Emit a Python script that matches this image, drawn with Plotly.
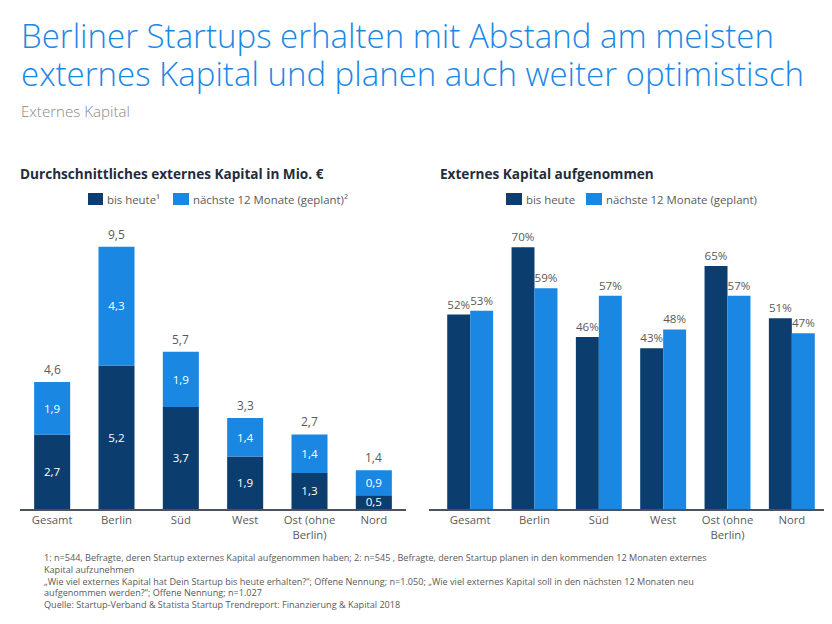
import plotly.graph_objects as go

# ---------------- data ----------------
categories = ["Gesamt", "Berlin", "Süd", "West", "Ost (ohne<br>Berlin)", "Nord"]
kapital_bis_heute = [2.7, 5.2, 3.7, 1.9, 1.3, 0.5]
kapital_geplant = [1.9, 4.3, 1.9, 1.4, 1.4, 0.9]
kapital_gesamt = [4.6, 9.5, 5.7, 3.3, 2.7, 1.4]
anteil_bis_heute = [52, 70, 46, 43, 65, 51]
anteil_geplant = [53, 59, 57, 48, 57, 47]

title_lines = ["Berliner Startups erhalten mit Abstand am meisten",
               "externes Kapital und planen auch weiter optimistisch"]
subtitle = "Externes Kapital"
left_title = "Durchschnittliches externes Kapital in Mio. €"
right_title = "Externes Kapital aufgenommen"
left_legend = ["bis heute¹", "nächste 12 Monate (geplant)²"]
right_legend = ["bis heute", "nächste 12 Monate (geplant)"]
footnotes = [
    "1: n=544, Befragte, deren Startup externes Kapital aufgenommen haben; 2: n=545 , Befragte, deren Startup planen in den kommenden 12 Monaten externes",
    "Kapital aufzunehmen",
    "„Wie viel externes Kapital hat Dein Startup bis heute erhalten?“; Offene Nennung; n=1.050; „Wie viel externes Kapital soll in den nächsten 12 Monaten neu",
    "aufgenommen werden?“; Offene Nennung; n=1.027",
    "Quelle: Startup-Verband & Statista Startup Trendreport: Finanzierung & Kapital 2018",
]

# ---------------- style ----------------
OFF = 8                      # page body margin
W, H = 832 - OFF, 624 - OFF
DARK = "#0b3d6f"
LIGHT = "#1a87e3"
TITLE_BLUE = "#1b88e6"
GRAY = "#5a5a5a"
FONT = "Open Sans"

def px_x(x):
    return (x - OFF) / W

def px_y(y):
    return 1 - (y - OFF) / H

fig = go.Figure()

# left chart: stacked bars
fig.add_trace(go.Bar(
    x=categories, y=kapital_bis_heute, xaxis="x", yaxis="y",
    marker=dict(color=DARK, line=dict(width=0)), width=0.56,
    texttemplate="%{y:.1f}", textposition="inside", insidetextanchor="middle",
    textangle=0, textfont=dict(color="white", size=12, family=FONT),
    constraintext="none", showlegend=False, hoverinfo="skip",
))
fig.add_trace(go.Bar(
    x=categories, y=[t - b for t, b in zip(kapital_gesamt, kapital_bis_heute)],
    base=kapital_bis_heute, customdata=kapital_geplant,
    xaxis="x", yaxis="y",
    marker=dict(color=LIGHT, line=dict(width=0)), width=0.56,
    texttemplate="%{customdata:.1f}", textposition="inside", insidetextanchor="middle",
    textangle=0, textfont=dict(color="white", size=12, family=FONT),
    constraintext="none", showlegend=False, hoverinfo="skip",
))

# right chart: grouped bars
for vals, col, off in [(anteil_bis_heute, DARK, -0.357), (anteil_geplant, LIGHT, 0.0)]:
    fig.add_trace(go.Bar(
        x=categories, y=vals, xaxis="x2", yaxis="y2",
        marker=dict(color=col, line=dict(width=0)), width=0.357, offset=off,
        texttemplate="%{y}%", textposition="outside", textangle=0,
        textfont=dict(color=GRAY, size=11.6, family=FONT),
        constraintext="none", cliponaxis=False, showlegend=False, hoverinfo="skip",
    ))

ydom = [px_y(509), px_y(233)]
axis_common = dict(showgrid=False, zeroline=False, ticks="", showline=True,
                   linecolor="#4a5260", linewidth=1.5,
                   tickfont=dict(color=GRAY, size=11.3, family=FONT))

annotations = []

# totals above stacked bars
for c, t in zip(categories, kapital_gesamt):
    annotations.append(dict(x=c, y=t, xref="x", yref="y", text=f"{t:.1f}".replace(".", ","),
                            showarrow=False, yanchor="bottom", yshift=2,
                            font=dict(size=12, color=GRAY, family=FONT)))

annotations.append(dict(text=title_lines[0], x=px_x(19), y=px_y(36),
                        xref="paper", yref="paper", xanchor="left", yanchor="middle",
                        showarrow=False, align="left",
                        font=dict(size=33, color=TITLE_BLUE, family=FONT, weight=300)))
annotations.append(dict(text=title_lines[1], x=px_x(19), y=px_y(73),
                        xref="paper", yref="paper", xanchor="left", yanchor="middle",
                        showarrow=False, align="left",
                        font=dict(size=33, color=TITLE_BLUE, family=FONT, weight=300)))
annotations.append(dict(text=subtitle, x=px_x(19), y=px_y(111),
                        xref="paper", yref="paper", xanchor="left", yanchor="middle",
                        showarrow=False, align="left",
                        font=dict(size=15.1, color="#8a8a8a", family=FONT, weight=300)))
annotations.append(dict(text="<b>" + left_title + "</b>", x=px_x(18), y=px_y(174),
                        xref="paper", yref="paper", xanchor="left", yanchor="middle",
                        showarrow=False, font=dict(size=13.6, color="#1f2d3d", family=FONT)))
annotations.append(dict(text="<b>" + right_title + "</b>", x=px_x(438), y=px_y(174),
                        xref="paper", yref="paper", xanchor="left", yanchor="middle",
                        showarrow=False, font=dict(size=13.6, color="#1f2d3d", family=FONT)))

shapes = []

def legend(items, xs_box, colors):
    for label, (x0, x1), c in zip(items, xs_box, colors):
        shapes.append(dict(type="rect", xref="paper", yref="paper",
                           x0=px_x(x0), x1=px_x(x1), y0=px_y(205), y1=px_y(193),
                           fillcolor=c, line=dict(width=0)))
        annotations.append(dict(text=label, x=px_x(x1 + 2), y=px_y(199.5),
                                xref="paper", yref="paper", xanchor="left", yanchor="middle",
                                showarrow=False, font=dict(size=11.4, color=GRAY, family=FONT)))

legend(left_legend, [(88, 103), (173, 189)], [DARK, LIGHT])
legend(right_legend, [(506, 522), (586, 602)], [DARK, LIGHT])

annotations.append(dict(text="<br>".join(footnotes), x=px_x(42), y=px_y(580.5),
                        xref="paper", yref="paper", xanchor="left", yanchor="middle",
                        showarrow=False, align="left",
                        font=dict(size=9.1, color=GRAY, family=FONT)))

fig.update_layout(
    width=W, height=H, margin=dict(l=0, r=0, t=0, b=0),
    paper_bgcolor="white", plot_bgcolor="white",
    barmode="overlay", separators=",.",
    font=dict(family=FONT, color=GRAY),
    uniformtext=dict(minsize=11, mode="show"),
    xaxis=dict(domain=[px_x(20), px_x(406)], range=[-0.5, 5.5], anchor="y", **axis_common),
    yaxis=dict(domain=ydom, range=[0, 10], visible=False, anchor="x"),
    xaxis2=dict(domain=[px_x(429), px_x(824)], range=[-0.64, 5.5], anchor="y2", **axis_common),
    yaxis2=dict(domain=ydom, range=[0, 73.8], visible=False, anchor="x2"),
    annotations=annotations, shapes=shapes,
)

fig.write_html("out.html")
